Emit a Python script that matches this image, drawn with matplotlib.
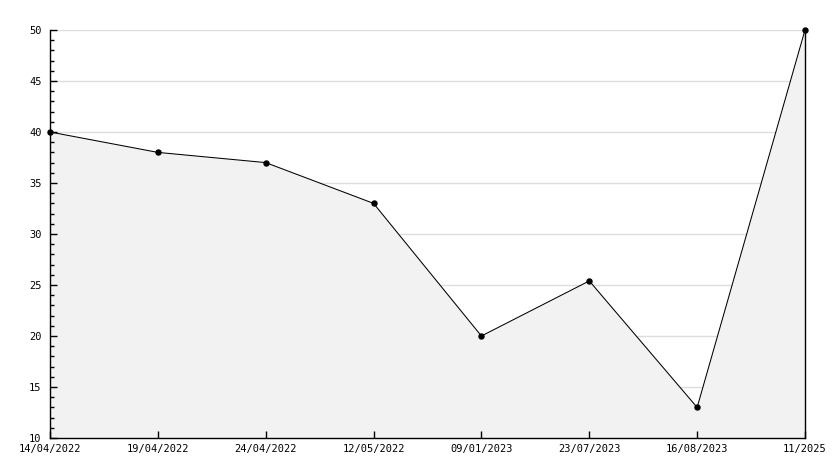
import matplotlib
matplotlib.use("Agg")
import matplotlib.pyplot as plt
import numpy as np
from matplotlib.ticker import MultipleLocator

labels = ['14/04/2022', '19/04/2022', '24/04/2022', '12/05/2022',
          '09/01/2023', '23/07/2023', '16/08/2023', '11/2025']
values = [40, 38, 37, 33, 20, 25.4, 13, 50]

fig = plt.figure(figsize=(8.34, 4.68), dpi=100)
ax = fig.add_axes([50 / 834, 30 / 468, 755 / 834, 408 / 468])

x = np.arange(len(values))
# grid drawn by hand so the filled area covers it but not the ticks
for gy in range(15, 55, 5):
    ax.axhline(gy, color='#dddddd', lw=1, zorder=0.5)
ax.fill_between(x, values, 10, color='#f2f2f2', lw=0, zorder=1)
ax.plot(x, values, color='black', lw=0.75, marker='o', markersize=3.6, zorder=3,
        clip_on=False)

ax.set_xlim(0, len(values) - 1)
ax.set_ylim(10, 50)
ax.set_xticks(x)
ax.set_xticklabels(labels)
ax.yaxis.set_major_locator(MultipleLocator(5))
ax.yaxis.set_minor_locator(MultipleLocator(1))

ax.spines['top'].set_visible(False)
for s in ['left', 'bottom', 'right']:
    ax.spines[s].set_linewidth(1)
ax.tick_params(axis='y', which='major', direction='in', length=5, width=1,
               labelsize=7.5, pad=6)
ax.tick_params(axis='y', which='minor', direction='in', length=3, width=1)
ax.tick_params(axis='x', direction='in', length=5, width=1, labelsize=7.5, pad=4)
for t in ax.get_xticklabels() + ax.get_yticklabels():
    t.set_family('DejaVu Sans Mono')

fig.savefig('out.png', dpi=100)
